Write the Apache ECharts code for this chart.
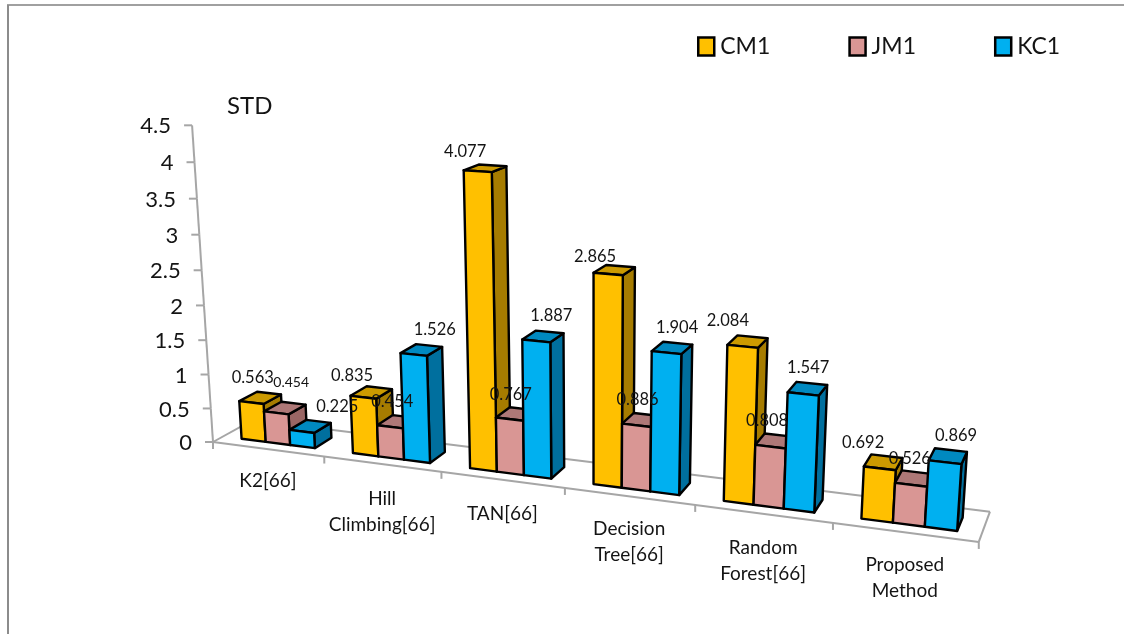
<!DOCTYPE html>
<html>
<head>
<meta charset="utf-8">
<title>STD by method</title>
<style>
  html, body { margin: 0; padding: 0; background: #fff; }
  #chart { width: 1124px; height: 634px; }
</style>
<script src="https://cdn.jsdelivr.net/npm/echarts@6/dist/echarts.min.js"></script>
</head>
<body>
<div id="chart"></div>
<script>
// ---- data ----
const categories = ['K2[66]', 'Hill\nClimbing[66]', 'TAN[66]', 'Decision\nTree[66]', 'Random\nForest[66]', 'Proposed\nMethod'];
const seriesNames = ['CM1', 'JM1', 'KC1'];
const cm1 = [0.563, 0.835, 4.077, 2.865, 2.084, 0.692];
const jm1 = [0.454, 0.454, 0.767, 0.886, 0.808, 0.526];
const kc1 = [0.225, 1.526, 1.887, 1.904, 1.547, 0.869];
const yTicks = [0, 0.5, 1, 1.5, 2, 2.5, 3, 3.5, 4, 4.5];

// ---- styling and layout ----
const FONT = 'Lato, "Open Sans", sans-serif';
const INK = '#141414';
const RULE = '#a6a6a6';
const faceColors = {
  CM1: { front: '#ffc000', top: '#cc9a00', side: '#a67c00' },
  JM1: { front: '#d99694', top: '#ae7877', side: '#9a6664' },
  KC1: { front: '#00b0f0', top: '#0089c0', side: '#006f9e' }
};
// Value-label offsets from the bar's rear top edge, one row per series.
const labelOffsets = {
  CM1: [[-17, -15], [-28, -12], [-28, -13], [-26, -9], [-25, -16], [-24, -13]],
  JM1: [[-3, -20], [-14, -14], [-13, -14], [-11, -14], [-13, -14], [-8, -13]],
  KC1: [[18, -14], [5, -15], [1, -16], [-1, -15], [-4, -15], [5, -14]]
};
const LABEL_SIZE = 16.5;
const SMALL_LABEL_SIZE = 14;   // the first JM1 label is set tighter
const categoryNudge = [-1, 2, 1, 0, 1, 0];

// Bars occupy this slice of a category cell and of the floor depth.
const CLUSTER_START = 0.17;
const BAR_WIDTH = 0.2213;
const DEPTH_FRONT = 0.25;
const DEPTH_BACK = 0.7;

// Camera: floor homography (u along categories, v into the depth) plus the
// vertical vanishing point, all in homogeneous screen coordinates.
const CAM = {
  x: [213, 103.2, 49.9], y: [442, 3.13, -4.86], w: [1, -0.02496, 0.0408],
  vx: 593, vy: 6192, k: -0.0116
};
function project(u, v, h) {
  const hk = h * CAM.k;
  const w = CAM.w[0] + CAM.w[1] * u + CAM.w[2] * v + hk;
  return [
    (CAM.x[0] + CAM.x[1] * u + CAM.x[2] * v + hk * CAM.vx) / w,
    (CAM.y[0] + CAM.y[1] * u + CAM.y[2] * v + hk * CAM.vy) / w
  ];
}

function line(a, b, width) {
  return {
    type: 'line',
    shape: { x1: a[0], y1: a[1], x2: b[0], y2: b[1] },
    style: { stroke: RULE, lineWidth: width || 2, fill: null }
  };
}
function text(str, x, y, size, align, vAlign, lineHeight, z2) {
  return {
    type: 'text',
    z2: z2 || 10,
    style: {
      text: str, x: x, y: y, fill: INK, font: size + 'px ' + FONT,
      align: align, verticalAlign: vAlign, lineHeight: lineHeight
    }
  };
}

// Reads a datum back through the hidden cartesian axes: cell position and height in units.
function readDatum(api) {
  const cat = api.value(0), val = api.value(1);
  const p = api.coord([cat, val]);
  const base = api.coord([cat, 0]);
  const size = api.size([1, 1]);
  const gridLeft = base[0] - (cat + 0.5) * size[0];
  return { cat: cat, cell: (base[0] - gridLeft) / size[0] - 0.5, height: (base[1] - p[1]) / size[1], val: val };
}

function barRenderer(name, order) {
  const colors = faceColors[name];
  return function (params, api) {
    const d = readDatum(api);
    const u0 = d.cell + CLUSTER_START + order * BAR_WIDTH;
    const u1 = u0 + BAR_WIDTH;
    const h = d.height;
    const fbl = project(u0, DEPTH_FRONT, 0), fbr = project(u1, DEPTH_FRONT, 0);
    const ftl = project(u0, DEPTH_FRONT, h), ftr = project(u1, DEPTH_FRONT, h);
    const bbr = project(u1, DEPTH_BACK, 0);
    const btl = project(u0, DEPTH_BACK, h), btr = project(u1, DEPTH_BACK, h);
    const face = (points, fill) => ({
      type: 'polygon',
      shape: { points: points },
      style: { fill: fill, stroke: '#000', lineWidth: 2.4, lineJoin: 'round' }
    });
    const anchor = project((u0 + u1) / 2, 0.72, h);
    const off = labelOffsets[name][d.cat];
    const size = (name === 'JM1' && d.cat === 0) ? SMALL_LABEL_SIZE : LABEL_SIZE;
    return {
      type: 'group',
      children: [
        face([fbr, bbr, btr, ftr], colors.side),
        face([ftl, ftr, btr, btl], colors.top),
        face([fbl, fbr, ftr, ftl], colors.front),
        text(d.val.toFixed(3), anchor[0] + off[0], anchor[1] + off[1], size, 'center', 'middle', 18, 100)
      ]
    };
  };
}

// Floor outline and category ticks with their names.
function floorRenderer(params, api) {
  const d = readDatum(api);
  const i = d.cat;
  const children = [];
  if (i === 0) {
    children.push(line(project(0, 0, 0), project(0, 1, 0)));
    children.push(line(project(0, 1, 0), project(categories.length, 1, 0)));
    children.push(line(project(categories.length, 1, 0), project(categories.length, 0, 0)));
    children.push(line(project(0, 0, 0), project(categories.length, 0, 0)));
    const o = project(0, 0, 0);
    children.push(line(o, [o[0], o[1] + 7]));
  }
  const tick = project(i + 1, 0, 0);
  children.push(line(tick, [tick[0], tick[1] + 7]));
  const mid = project(i + 0.5, 0, 0);
  children.push(text(categories[i], mid[0], mid[1] + 20 + categoryNudge[i], 19, 'center', 'top', 26));
  return { type: 'group', children: children };
}

// Slanted value axis along the front-left vertical edge.
function axisRenderer(params, api) {
  const d = readDatum(api);
  const p = project(0, 0, d.height);
  const children = [line(p, [p[0] - 8, p[1]])];
  if (params.dataIndex < yTicks.length - 1) {
    const unit = (yTicks[params.dataIndex + 1] - yTicks[params.dataIndex]);
    children.push(line(p, project(0, 0, d.height + unit)));
  }
  children.push(text(String(d.val), p[0] - 21, p[1] + 1, 22, 'right', 'middle', 24));
  return { type: 'group', children: children };
}

const toPairs = values => values.map((v, i) => [i, v]);
const chart = echarts.init(document.getElementById('chart'), null, { renderer: 'canvas' });

chart.setOption({
  animation: false,
  backgroundColor: '#fff',
  title: {
    text: 'STD', left: 222, top: 89,
    textStyle: { fontFamily: FONT, fontSize: 24, fontWeight: 'normal', color: INK }
  },
  legend: {
    left: 692, top: 30, itemWidth: 16, itemHeight: 18, itemGap: 78,
    selectedMode: false,
    textStyle: { fontFamily: FONT, fontSize: 23, color: INK, padding: [2, 0, 0, 1] },
    data: seriesNames.map(n => ({
      name: n, icon: 'rect',
      itemStyle: { color: faceColors[n].front, borderColor: '#000', borderWidth: 2.5 }
    }))
  },
  grid: { left: 100, top: 100, width: 600, height: 450 },
  xAxis: { type: 'category', data: categories, show: false },
  yAxis: { type: 'value', min: 0, max: 4.5, interval: 0.5, show: false },
  graphic: [
    { type: 'line', silent: true, shape: { x1: 7, y1: 5, x2: 1124, y2: 5 }, style: { stroke: '#808080', lineWidth: 1.5 } },
    { type: 'line', silent: true, shape: { x1: 8, y1: 5, x2: 8, y2: 634 }, style: { stroke: '#8c8c8c', lineWidth: 2 } }
  ],
  series: [
    { type: 'custom', name: 'floor', renderItem: floorRenderer, silent: true,
      data: categories.map((c, i) => [i, 0]), encode: { x: 0, y: 1 } },
    { type: 'custom', name: 'axis', renderItem: axisRenderer, silent: true,
      data: yTicks.map(t => [0, t]), encode: { x: 0, y: 1 } },
    { type: 'custom', name: 'CM1', renderItem: barRenderer('CM1', 0), data: toPairs(cm1), encode: { x: 0, y: 1 } },
    { type: 'custom', name: 'JM1', renderItem: barRenderer('JM1', 1), data: toPairs(jm1), encode: { x: 0, y: 1 } },
    { type: 'custom', name: 'KC1', renderItem: barRenderer('KC1', 2), data: toPairs(kc1), encode: { x: 0, y: 1 } }
  ]
});
</script>
</body>
</html>
